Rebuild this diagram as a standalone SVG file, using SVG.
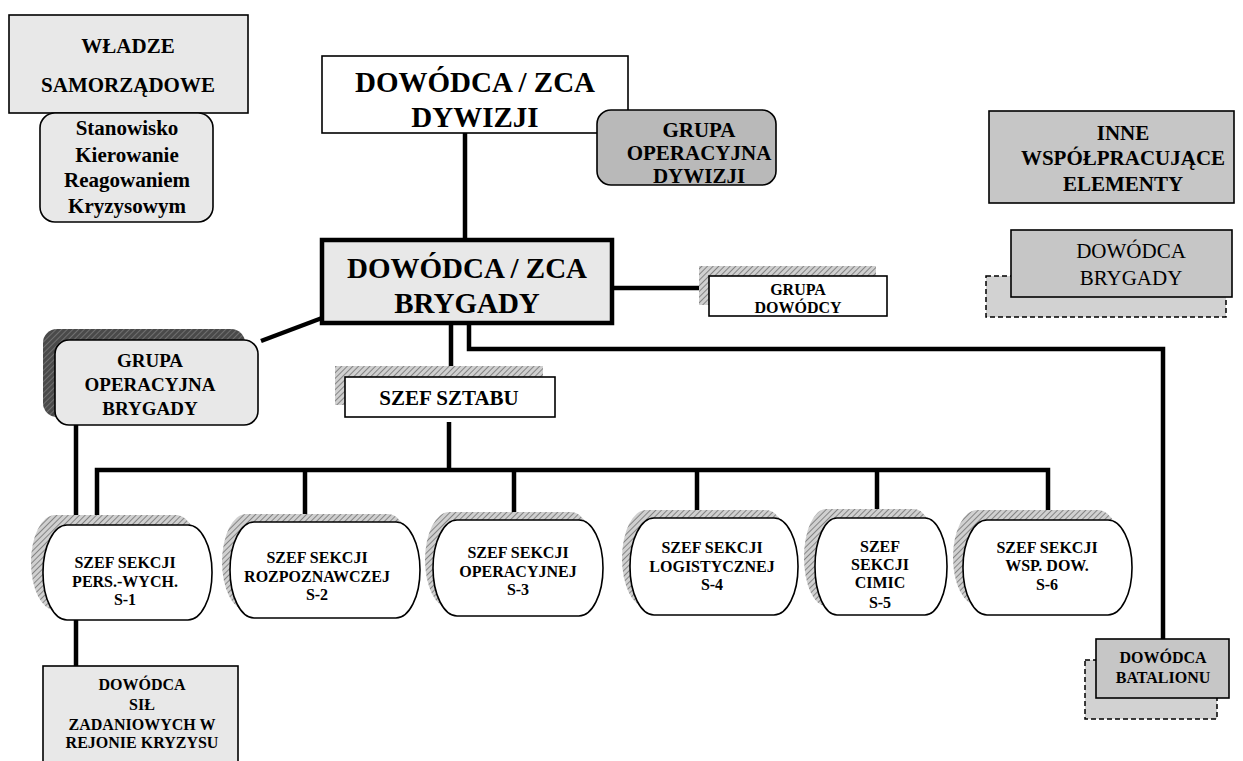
<svg xmlns="http://www.w3.org/2000/svg" width="1243" height="761" viewBox="0 0 1243 761">
<defs>
<pattern id="hatch" width="4" height="4" patternUnits="userSpaceOnUse" patternTransform="rotate(45)">
<rect width="4" height="4" fill="#d0d0d0"/>
<line x1="0" y1="0" x2="0" y2="4" stroke="#707070" stroke-width="1.6"/>
</pattern>
<pattern id="hatchDark" width="4" height="4" patternUnits="userSpaceOnUse" patternTransform="rotate(45)">
<rect width="4" height="4" fill="#4a4a4a"/>
<line x1="0" y1="0" x2="0" y2="4" stroke="#8a8a8a" stroke-width="1.2"/>
</pattern>
<style>
text{font-family:"Liberation Serif","Times New Roman",serif;font-weight:bold;text-anchor:middle;fill:#000}
.box{stroke:#000;stroke-width:1.6}
.light{fill:#e8e8e8}
.mid{fill:#c6c6c6}
.dark{fill:#b9b9b9}
.white{fill:#fff}
.dash{fill:#d2d2d2;stroke:#000;stroke-width:1.5;stroke-dasharray:5 3}
.sec{fill:#fff;stroke:#000;stroke-width:1.6}
.shadow{fill:url(#hatch)}
.conn{fill:none;stroke:#000;stroke-width:4.5}
.t16{font-size:16px}
.t21{font-size:21px}
.t29{font-size:29px}
.reg{font-weight:normal}
</style>
</defs>
<rect width="1243" height="761" fill="#fff"/>

<g id="connectors">
<path class="conn" d="M465,133 V240"/>
<path class="conn" d="M612,288 H709"/>
<path class="conn" d="M322,318 L261,341"/>
<path class="conn" d="M451,323 V377"/>
<path class="conn" d="M469,323 V349 H1163 V639"/>
<path class="conn" d="M449,422 V470"/>
<path class="conn" d="M97,525 V470 H1048 V520"/>
<path class="conn" d="M305,470 V522"/>
<path class="conn" d="M514,470 V520"/>
<path class="conn" d="M697,470 V518"/>
<path class="conn" d="M877,470 V518"/>
<path class="conn" d="M76,425 V525"/>
<path class="conn" d="M76,620 V666"/>
</g>

<g id="wladze">
<rect class="box light" x="9" y="15" width="239" height="98"/>
<text class="t21" x="128" y="53">WŁADZE</text>
<text class="t21" x="128" y="92">SAMORZĄDOWE</text>
</g>

<g id="stanowisko">
<rect class="box light" x="40" y="113" width="173" height="109" rx="15"/>
<text class="t21" x="127" y="135">Stanowisko</text>
<text class="t21" x="127" y="162">Kierowanie</text>
<text class="t21" x="127" y="187">Reagowaniem</text>
<text class="t21" x="127" y="213">Kryzysowym</text>
</g>

<g id="dowodca-dywizji">
<rect class="box white" x="322" y="56" width="306" height="77"/>
<text class="t29" x="475" y="92">DOWÓDCA / ZCA</text>
<text class="t29" x="475" y="127">DYWIZJI</text>
</g>

<g id="grupa-op-dywizji">
<rect class="box dark" x="597" y="110" width="179" height="75" rx="14"/>
<text class="t21" x="699" y="137">GRUPA</text>
<text class="t21" x="699" y="160">OPERACYJNA</text>
<text class="t21" x="699" y="183">DYWIZJI</text>
</g>

<g id="inne">
<rect class="box mid" x="989" y="111" width="245" height="92"/>
<text class="t21" x="1123" y="140">INNE</text>
<text class="t21" x="1123" y="165">WSPÓŁPRACUJĄCE</text>
<text class="t21" x="1123" y="191">ELEMENTY</text>
</g>

<g id="dowodca-brygady-inny">
<rect class="dash" x="986" y="276" width="240" height="41"/>
<rect class="box mid" x="1011" y="230" width="221" height="67"/>
<text class="t21 reg" x="1131" y="258">DOWÓDCA</text>
<text class="t21 reg" x="1131" y="285">BRYGADY</text>
</g>

<g id="dowodca-brygady">
<rect x="322" y="240" width="290" height="83" fill="#e8e8e8" stroke="#000" stroke-width="4.5"/>
<text class="t29" x="467" y="278">DOWÓDCA / ZCA</text>
<text class="t29" x="467" y="313">BRYGADY</text>
</g>

<g id="grupa-dowodcy">
<rect class="shadow" x="699" y="266" width="177" height="39"/>
<rect class="box white" x="709" y="276" width="178" height="40"/>
<text class="t16" x="798" y="295">GRUPA</text>
<text class="t16" x="798" y="313">DOWÓDCY</text>
</g>

<g id="grupa-op-brygady">
<rect x="43" y="329" width="202" height="88" rx="14" fill="url(#hatchDark)"/>
<rect class="box light" x="55" y="340" width="203" height="85" rx="14"/>
<text x="150" y="367" style="font-size:19px">GRUPA</text>
<text x="150" y="391" style="font-size:19px">OPERACYJNA</text>
<text x="150" y="415" style="font-size:19px">BRYGADY</text>
</g>

<g id="szef-sztabu">
<rect class="shadow" x="335" y="366" width="208" height="39"/>
<rect class="box white" x="345" y="377" width="210" height="40"/>
<text x="449" y="405" style="font-size:21px">SZEF SZTABU</text>
</g>

<g id="s1">
<rect class="shadow" x="31" y="515" width="169" height="95" rx="24" ry="47"/>
<rect class="sec" x="43" y="525" width="169" height="95" rx="24" ry="47"/>
<text class="t16" x="125" y="568">SZEF SEKCJI</text>
<text class="t16" x="125" y="587">PERS.-WYCH.</text>
<text class="t16" x="125" y="605">S-1</text>
</g>

<g id="s2">
<rect class="shadow" x="222" y="514" width="190" height="96" rx="24" ry="48"/>
<rect class="sec" x="230" y="522" width="190" height="96" rx="24" ry="48"/>
<text class="t16" x="317" y="563">SZEF SEKCJI</text>
<text class="t16" x="317" y="582">ROZPOZNAWCZEJ</text>
<text class="t16" x="317" y="600">S-2</text>
</g>

<g id="s3">
<rect class="shadow" x="425" y="512" width="170" height="96" rx="24" ry="48"/>
<rect class="sec" x="433" y="520" width="170" height="96" rx="24" ry="48"/>
<text class="t16" x="518" y="558">SZEF SEKCJI</text>
<text class="t16" x="518" y="577">OPERACYJNEJ</text>
<text class="t16" x="518" y="595">S-3</text>
</g>

<g id="s4">
<rect class="shadow" x="622" y="510" width="168" height="97" rx="24" ry="48"/>
<rect class="sec" x="630" y="518" width="168" height="97" rx="24" ry="48"/>
<text class="t16" x="712" y="553">SZEF SEKCJI</text>
<text class="t16" x="712" y="572">LOGISTYCZNEJ</text>
<text class="t16" x="712" y="590">S-4</text>
</g>

<g id="s5">
<rect class="shadow" x="804" y="509" width="132" height="97" rx="22" ry="48"/>
<rect class="sec" x="815" y="518" width="132" height="97" rx="22" ry="48"/>
<text class="t16" x="880" y="552">SZEF</text>
<text class="t16" x="880" y="570">SEKCJI</text>
<text class="t16" x="880" y="588">CIMIC</text>
<text class="t16" x="880" y="608">S-5</text>
</g>

<g id="s6">
<rect class="shadow" x="953" y="510" width="169" height="95" rx="24" ry="47"/>
<rect class="sec" x="963" y="520" width="169" height="95" rx="24" ry="47"/>
<text class="t16" x="1047" y="553">SZEF SEKCJI</text>
<text class="t16" x="1047" y="571">WSP. DOW.</text>
<text class="t16" x="1047" y="590">S-6</text>
</g>

<g id="dowodca-sil">
<rect class="box light" x="43" y="666" width="195" height="110"/>
<text class="t16" x="142" y="690">DOWÓDCA</text>
<text class="t16" x="142" y="710">SIŁ</text>
<text class="t16" x="142" y="730">ZADANIOWYCH W</text>
<text class="t16" x="142" y="748">REJONIE KRYZYSU</text>
</g>

<g id="dowodca-batalionu">
<rect class="dash" x="1085" y="660" width="132" height="59"/>
<rect class="box mid" x="1096" y="639" width="133" height="59"/>
<text class="t16" x="1163" y="663">DOWÓDCA</text>
<text class="t16" x="1163" y="683">BATALIONU</text>
</g>
</svg>
